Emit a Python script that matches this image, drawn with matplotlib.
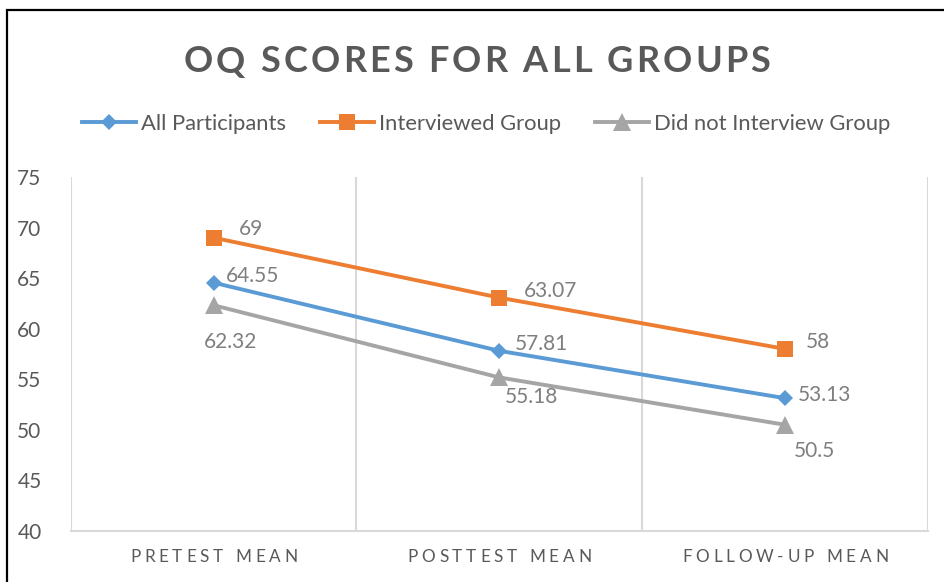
import matplotlib
matplotlib.use("Agg")
import matplotlib.pyplot as plt
from matplotlib.transforms import IdentityTransform
from matplotlib.lines import Line2D
from matplotlib.patches import Rectangle

# ---------------- data ----------------
categories = ["PRETEST MEAN", "POSTTEST MEAN", "FOLLOW-UP MEAN"]
series_names = ["All Participants", "Interviewed Group", "Did not Interview Group"]
all_participants = [64.55, 57.81, 53.13]
interviewed = [69, 63.07, 58]
not_interviewed = [62.32, 55.18, 50.5]
yticks = [40, 45, 50, 55, 60, 65, 70, 75]
title = "OQ SCORES FOR ALL GROUPS"

# ---------------- style ----------------
FONT = "Lato"
plt.rcParams["font.family"] = [FONT, "DejaVu Sans"]
W, H, DPI = 944, 582, 100
colors = ["#5B9BD5", "#ED7D31", "#A5A5A5"]
markers = ["D", "s", "^"]
msizes = [8.2, 12.0, 12.5]
text_dark = "#595959"
label_gray = "#7F7F7F"
grid_gray = "#D9D9D9"

fig = plt.figure(figsize=(W / DPI, H / DPI), dpi=DPI)
ax = fig.add_axes([70.7 / W, 1 - 531 / H, (928 - 70.7) / W, (531 - 177) / H])

x = list(range(len(categories)))
data = [all_participants, interviewed, not_interviewed]
for vals, c, m, ms, name in zip(data, colors, markers, msizes, series_names):
    ax.plot(x, vals, color=c, lw=2.8, marker=m, ms=ms, mew=0, label=name,
            solid_capstyle="round", zorder=3)

ax.set_xlim(-0.5, len(categories) - 0.5)
ax.set_ylim(40, 75)
ax.set_yticks(yticks)
ax.set_yticklabels([str(v) for v in yticks], color=text_dark, fontsize=15)
ax.tick_params(axis="y", length=0, pad=21)
ax.tick_params(axis="x", length=0, labelbottom=False)
for s in ["top", "right", "left"]:
    ax.spines[s].set_visible(False)
ax.spines["bottom"].set_color(grid_gray)
ax.spines["bottom"].set_linewidth(1.5)
for b in [i - 0.5 for i in range(len(categories) + 1)]:
    ax.axvline(b, color=grid_gray, lw=1.5, zorder=1)

# data labels (offsets in pixels)
offsets = [
    [(12, -7, "left"), (15, -7, "left"), (13, -3, "left")],
    [(25, -9, "left"), (25, -7, "left"), (21, -7, "left")],
    [(-10, 37, "left"), (5, 20, "left"), (9, 26, "left")],
]
for vals, offs in zip(data, offsets):
    for xi, v, (dx, dy, ha) in zip(x, vals, offs):
        ax.annotate(f"{v:g}", (xi, v), xytext=(dx, -dy), textcoords="offset pixels",
                    ha=ha, va="center", fontsize=15, color=label_gray, zorder=4)

renderer = fig.canvas.get_renderer()


def text_width(s, **kw):
    t = fig.text(0, 0, s, transform=IdentityTransform(), **kw)
    w = t.get_window_extent(renderer).width
    t.remove()
    return w


def spaced_text(cx, y_top_px, s, spacing, **kw):
    ref = text_width("H", **kw)
    prefix = [text_width(s[:i] + "H", **kw) - ref if i > 0 else 0.0 for i in range(len(s) + 1)]
    total = prefix[-1] + spacing * (len(s) - 1)
    x0 = cx - total / 2
    for i, ch in enumerate(s):
        if ch == " ":
            continue
        fig.text(x0 + prefix[i] + spacing * i, H - y_top_px, ch,
                 transform=IdentityTransform(), ha="left", va="center", **kw)


# title
spaced_text(477, 62, title, 3.2, fontsize=26, fontweight="bold", color=text_dark)

# category labels
for xi, cat in zip(x, categories):
    cx = ax.transData.transform((xi, 0))[0]
    spaced_text(cx, 557, cat, 3.8, fontsize=12.3, color=text_dark)

# legend
handles = [Line2D([], [], color=c, lw=2.8, marker=m, ms=ms, mew=0)
           for c, m, ms in zip(colors, markers, msizes)]
leg = fig.legend(handles, series_names, loc="center", bbox_to_anchor=(486 / W, 1 - 124 / H),
                 ncol=3, frameon=False, fontsize=15.8, handlelength=2.47, handletextpad=0.22,
                 columnspacing=1.55, labelcolor=text_dark)

# outer frame
fig.patches.append(Rectangle((6.5 / W, -0.1), 1.2, 1 - 9.5 / H + 0.1, transform=fig.transFigure,
                             fill=False, edgecolor="black", lw=1.6))

fig.savefig("out.png", dpi=DPI)
